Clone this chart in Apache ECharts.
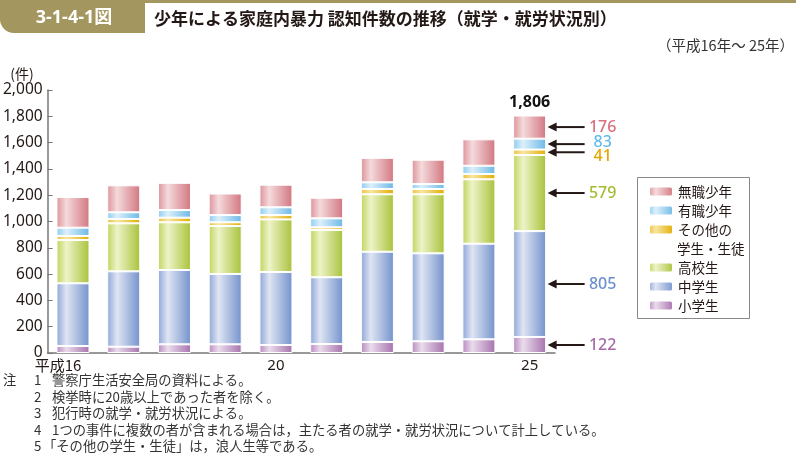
<!DOCTYPE html>
<html>
<head>
<meta charset="utf-8">
<script src="https://cdn.jsdelivr.net/npm/echarts@6/dist/echarts.min.js"></script>
<style>
html,body{margin:0;padding:0;background:#fff;}
#chart{width:796px;height:467px;}
</style>
</head>
<body>
<div id="chart"></div>
<script>
// ---- data ----
const categories = ['16','17','18','19','20','21','22','23','24','25'];
const elementary    = [53, 48, 66, 66, 61, 68, 84, 89, 104, 122];   // 小学生
const juniorHigh    = [477, 573, 565, 535, 555, 508, 686, 669, 727, 805]; // 中学生
const highSchool    = [329, 365, 363, 365, 400, 359, 437, 449, 490, 579]; // 高校生
const otherStudents = [31, 33, 35, 28, 33, 21, 40, 40, 40, 41];     // その他の学生・生徒
const employed      = [63, 51, 58, 55, 59, 68, 51, 38, 63, 83];     // 有職少年
const unemployed    = [233, 205, 207, 164, 172, 157, 186, 185, 201, 176]; // 無職少年
const yTicks = [0, 200, 400, 600, 800, 1000, 1200, 1400, 1600, 1800, 2000];
const shownXLabels = ['16', '20', '25'];

const footnotes = [
  ['注', '1', '警察庁生活安全局の資料による。'],
  ['', '2', '検挙時に20歳以上であった者を除く。'],
  ['', '3', '犯行時の就学・就労状況による。'],
  ['', '4', '1つの事件に複数の者が含まれる場合は，主たる者の就学・就労状況について計上している。'],
  ['', '5', '「その他の学生・生徒」は，浪人生等である。']
];

// ---- styles ----
const FONT = "'Noto Sans', 'Noto Sans CJK JP', sans-serif";
const JFONT = "'Noto Sans CJK JP', 'Noto Sans', sans-serif";
function grad(base, light, dark) {
  return new echarts.graphic.LinearGradient(0, 0, 1, 0, [
    {offset: 0, color: base},
    {offset: 0.3, color: light},
    {offset: 1, color: dark}
  ]);
}
const OTHER = 'その他の\n学生・生徒';
const seriesDefs = [
  {name: '小学生', data: elementary, c: ['#b98ac0', '#eadcec', '#a672ad'], label: '#a86aa8'},
  {name: '中学生', data: juniorHigh, c: ['#8ea6d8', '#dfe5f3', '#7392cc'], label: '#6d8fcf'},
  {name: '高校生', data: highSchool, c: ['#bfd45c', '#eef3c8', '#a8c23a'], label: '#a3bd32'},
  {name: OTHER, data: otherStudents, c: ['#ecc040', '#f8e6a0', '#e3ac00'], label: '#e3a600'},
  {name: '有職少年', data: employed, c: ['#8dcbf0', '#dcf0fb', '#6cb8e6'], label: '#62bbea'},
  {name: '無職少年', data: unemployed, c: ['#dd929a', '#f4dadc', '#d27680'], label: '#d9707e'}
];

const last = categories.length - 1;
const totals = categories.map((_, i) => seriesDefs.reduce((s, d) => s + d.data[i], 0));

// annotation data for the last bar: [x index, mid value, text, color, dy]
const dyMap = {'有職少年': -2};
dyMap[OTHER] = 4;
let cum = 0;
const annotations = seriesDefs.map(d => {
  const v = d.data[last];
  const mid = cum + v / 2;
  cum += v;
  return [last, mid, String(v), d.label, dyMap[d.name] || 0];
});

const barSeries = seriesDefs.map((d, idx) => ({
  name: d.name,
  type: 'bar',
  stack: 'total',
  barWidth: 33,
  data: d.data.map((v, i) => {
    if (idx === seriesDefs.length - 1 && i === last) {
      return {
        value: v,
        label: {
          show: true, position: 'top', distance: 5,
          formatter: () => totals[i].toLocaleString('en-US'),
          fontFamily: FONT, fontSize: 16, fontWeight: 'bold', color: '#111'
        }
      };
    }
    return v;
  }),
  itemStyle: {color: grad(d.c[0], d.c[1], d.c[2]), borderColor: '#fff', borderWidth: 1},
  emphasis: {disabled: true}
}));

const arrowSeries = {
  type: 'custom',
  name: 'annot',
  clip: false,
  silent: true,
  data: annotations,
  encode: {x: 0, y: 1},
  renderItem: function (params, api) {
    const pt = api.coord([api.value(0), api.value(1)]);
    const x0 = pt[0] + 18, x1 = pt[0] + 55, y = pt[1];
    const dy = Number(api.value(4));
    return {
      type: 'group',
      children: [
        {type: 'line', shape: {x1: x0 + 6, y1: y, x2: x1, y2: y}, style: {stroke: '#231815', lineWidth: 2}},
        {type: 'polygon', shape: {points: [[x0, y], [x0 + 9, y - 4.5], [x0 + 9, y + 4.5]]}, style: {fill: '#231815'}},
        {type: 'text', style: {x: pt[0] + 73, y: y + dy, text: api.value(2), fill: api.value(3),
          font: '500 16px ' + FONT, textAlign: 'center', textVerticalAlign: 'middle'}}
      ]
    };
  }
};

const graphics = [
  {type: 'rect', shape: {x: 0, y: 0, width: 796, height: 3}, style: {fill: '#a3965e'}, silent: true},
  {type: 'rect', shape: {x: 0, y: 0, width: 145, height: 33, r: [0, 0, 0, 14]}, style: {fill: '#a3965e'}, silent: true},
  {type: 'text', x: 74, y: 18, style: {text: '3-1-4-1図', fill: '#fff', font: 'bold 18px ' + FONT, textAlign: 'center', textVerticalAlign: 'middle'}},
  {type: 'text', x: 154, y: 19, style: {text: '少年による家庭内暴力 認知件数の推移（就学・就労状況別）', fill: '#231815', font: 'bold 17px ' + JFONT, textAlign: 'left', textVerticalAlign: 'middle'}},
  {type: 'text', x: 794, y: 45, style: {text: '（平成16年～ 25年）', fill: '#333', font: '14.5px ' + JFONT, textAlign: 'right', textVerticalAlign: 'middle'}},
  // legend frame and second line of the two-line legend label
  {type: 'rect', shape: {x: 637.5, y: 177.5, width: 112, height: 141}, style: {fill: 'none', stroke: '#888', lineWidth: 1}, silent: true},
  {type: 'text', x: 677, y: 248.5, style: {text: OTHER.split('\n')[1], fill: '#231815', font: '13.5px ' + JFONT, textVerticalAlign: 'middle'}}
];
footnotes.forEach((f, i) => {
  const y = 380 + i * 16.5;
  const font = '13.3px ' + JFONT;
  if (f[0]) graphics.push({type: 'text', x: 3, y: y, style: {text: f[0], fill: '#333', font: font, textVerticalAlign: 'middle'}});
  graphics.push({type: 'text', x: 34, y: y, style: {text: f[1], fill: '#333', font: font, textVerticalAlign: 'middle'}});
  const tx = f[2].startsWith('「') ? 43 : 52;
  graphics.push({type: 'text', x: tx, y: y, style: {text: f[2], fill: '#333', font: font, textVerticalAlign: 'middle'}});
});

const legendCommon = {
  orient: 'vertical',
  left: 648,
  padding: 0,
  itemWidth: 24, itemHeight: 10, itemGap: 0,
  selectedMode: false,
  formatter: name => name.split('\n')[0],
  textStyle: {fontFamily: JFONT, fontSize: 13.5, lineHeight: 19, color: '#231815'}
};

const chart = echarts.init(document.getElementById('chart'), null, {renderer: 'canvas'});
chart.setOption({
  animation: false,
  backgroundColor: '#fff',
  grid: {left: 47, right: 241, top: 90, bottom: 114, containLabel: false},
  legend: [
    Object.assign({}, legendCommon, {data: ['無職少年', '有職少年', OTHER], top: 182}),
    Object.assign({}, legendCommon, {data: ['高校生', '中学生', '小学生'], top: 258})
  ],
  xAxis: {
    type: 'category',
    data: categories,
    axisLine: {lineStyle: {color: '#777', width: 1.5}},
    axisTick: {show: false},
    axisLabel: {
      interval: 0, margin: 5, color: '#231815', fontFamily: FONT, fontSize: 15,
      formatter: v => shownXLabels.includes(v) ? (v === categories[0] ? '{p|平成' + v + '}' : v) : '',
      rich: {p: {fontFamily: JFONT, fontSize: 15, color: '#231815', padding: [0, 30, 0, 0]}}
    }
  },
  yAxis: {
    type: 'value',
    min: yTicks[0], max: yTicks[yTicks.length - 1], interval: yTicks[1] - yTicks[0],
    name: '(件)', nameLocation: 'end', nameGap: 9,
    nameTextStyle: {fontFamily: JFONT, fontSize: 14, color: '#231815', align: 'right', padding: [0, 14, 0, 0]},
    axisLine: {show: true, lineStyle: {color: '#777', width: 1.5}},
    axisTick: {show: true, inside: true, length: 5, lineStyle: {color: '#777'}},
    splitLine: {show: false},
    axisLabel: {margin: 5, color: '#231815', fontFamily: FONT, fontSize: 15.5,
      formatter: v => v.toLocaleString('en-US')}
  },
  series: [...barSeries, arrowSeries],
  graphic: graphics
});
</script>
</body>
</html>
